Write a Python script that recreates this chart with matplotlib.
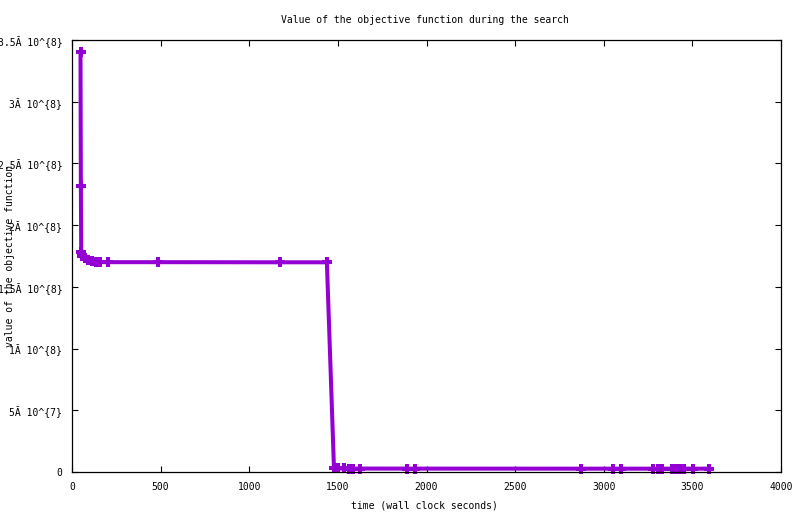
import matplotlib
matplotlib.use("Agg")
import matplotlib.pyplot as plt

# Data (time in wall clock seconds, objective value)
times = [48, 50, 52, 56, 73, 90, 113, 135, 158, 203, 485, 1175, 1438,
         1478, 1500, 1535, 1563, 1586, 1625, 1890, 1935, 2872, 3050, 3100,
         3280, 3305, 3330, 3385, 3410, 3430, 3453, 3505, 3594]
values = [340e6, 232e6, 178e6, 175e6, 173.4e6, 171.8e6, 170.6e6, 170.2e6,
          170.1e6, 170.0e6, 170.0e6, 169.9e6, 169.9e6,
          3.0e6, 2.9e6, 2.9e6, 2.8e6, 2.8e6, 2.8e6, 2.75e6, 2.75e6, 2.7e6,
          2.7e6, 2.7e6, 2.7e6, 2.7e6, 2.7e6, 2.7e6, 2.7e6, 2.7e6, 2.7e6,
          2.7e6, 2.7e6]

xticks = [0, 500, 1000, 1500, 2000, 2500, 3000, 3500, 4000]
yticks = [0, 5e7, 1e8, 1.5e8, 2e8, 2.5e8, 3e8, 3.5e8]
ytick_labels = ["0", "5Ă 10^{7}", "1Ă 10^{8}", "1.5Ă 10^{8}", "2Ă 10^{8}",
                "2.5Ă 10^{8}", "3Ă 10^{8}", "3.5Ă 10^{8}"]

title = "Value of the objective function during the search"
xlabel = "time (wall clock seconds)"
ylabel = "value of the objective function"

W, H = 800, 514
fig = plt.figure(figsize=(W / 100, H / 100), dpi=100)
L, R, T, B = 72, 781, 40, 472
ax = fig.add_axes([L / W, 1 - B / H, (R - L) / W, (B - T) / H])

font = "DejaVu Sans Mono"
fs = 7

ax.plot(times, values, color="#9400D3", linewidth=2.9, marker="+",
        markersize=7.5, markeredgewidth=2.9, solid_joinstyle="miter",
        clip_on=False)

ax.set_xlim(0, 4000)
ax.set_ylim(0, 3.5e8)
ax.set_xticks(xticks)
ax.set_xticklabels([str(x) for x in xticks], fontfamily=font, fontsize=fs)
ax.set_yticks(yticks)
ax.set_yticklabels(ytick_labels, fontfamily=font, fontsize=fs)
ax.tick_params(direction="in", length=4, width=0.8, top=True, right=True,
               pad=7, colors="black")
for s in ax.spines.values():
    s.set_linewidth(0.9)
    s.set_color("black")

fig.text(424.5 / W, 1 - 20 / H, title, ha="center", va="center",
         fontfamily=font, fontsize=fs)
fig.text(424 / W, 1 - 505 / H, xlabel, ha="center", va="center",
         fontfamily=font, fontsize=fs)
fig.text(10 / W, 1 - 256 / H, ylabel, ha="center", va="center",
         rotation=90, fontfamily=font, fontsize=fs)

fig.savefig("out.png", dpi=100)
